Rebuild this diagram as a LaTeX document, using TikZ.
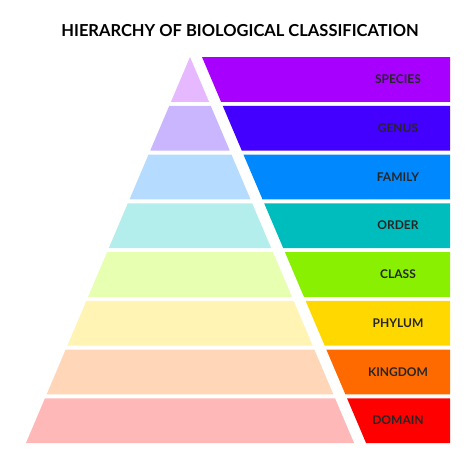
\documentclass[tikz,border=0pt]{standalone}
\usepackage{fontspec}
\setmainfont{Lato}
\begin{document}
\begin{tikzpicture}[x=1pt,y=-1pt,
  lab/.style={font=\bfseries\fontsize{12}{14}\selectfont, text=black!85},
  ttl/.style={font=\bfseries\fontsize{16.5}{19}\selectfont}]
\useasboundingbox (0,0) rectangle (474,474);
\node[ttl] (title) at (240,31) {HIERARCHY OF BIOLOGICAL CLASSIFICATION};
\def\ax{190}\def\ay{57}\def\s{0.425}
\foreach \i/\lc/\dc/\name/\txt in {
 0/E6B8FF/A800FF/species/SPECIES,
 1/C9B6FF/4400FF/genus/GENUS,
 2/B5DCFF/0088FF/family/FAMILY,
 3/B3EEEC/00BDBD/order/ORDER,
 4/E6FFB0/88F000/class/CLASS,
 5/FFF4B3/FFD800/phylum/PHYLUM,
 6/FFD6B8/FF6A00/kingdom/KINGDOM,
 7/FFB8B8/FF0000/domain/DOMAIN}{
  \definecolor{lc}{HTML}{\lc}\definecolor{dc}{HTML}{\dc}
  \pgfmathsetmacro{\ya}{57+\i*48.75}
  \pgfmathsetmacro{\yb}{\ya+44.75}
  \pgfmathsetmacro{\la}{\ax-\s*(\ya-\ay)}
  \pgfmathsetmacro{\lb}{\ax-\s*(\yb-\ay)}
  \pgfmathsetmacro{\ra}{\ax+\s*(\ya-\ay)}
  \pgfmathsetmacro{\rb}{\ax+\s*(\yb-\ay)}
  \fill[lc] (\la,\ya) -- (\ra,\ya) -- (\rb,\yb) -- (\lb,\yb) -- cycle;
  \fill[dc] (\ra+12,\ya) -- (450,\ya) -- (450,\yb) -- (\rb+12,\yb) -- cycle;
  \node[lab] (\name) at (398,{(\ya+\yb)/2}) {\txt};
}
\end{tikzpicture}
\end{document}
